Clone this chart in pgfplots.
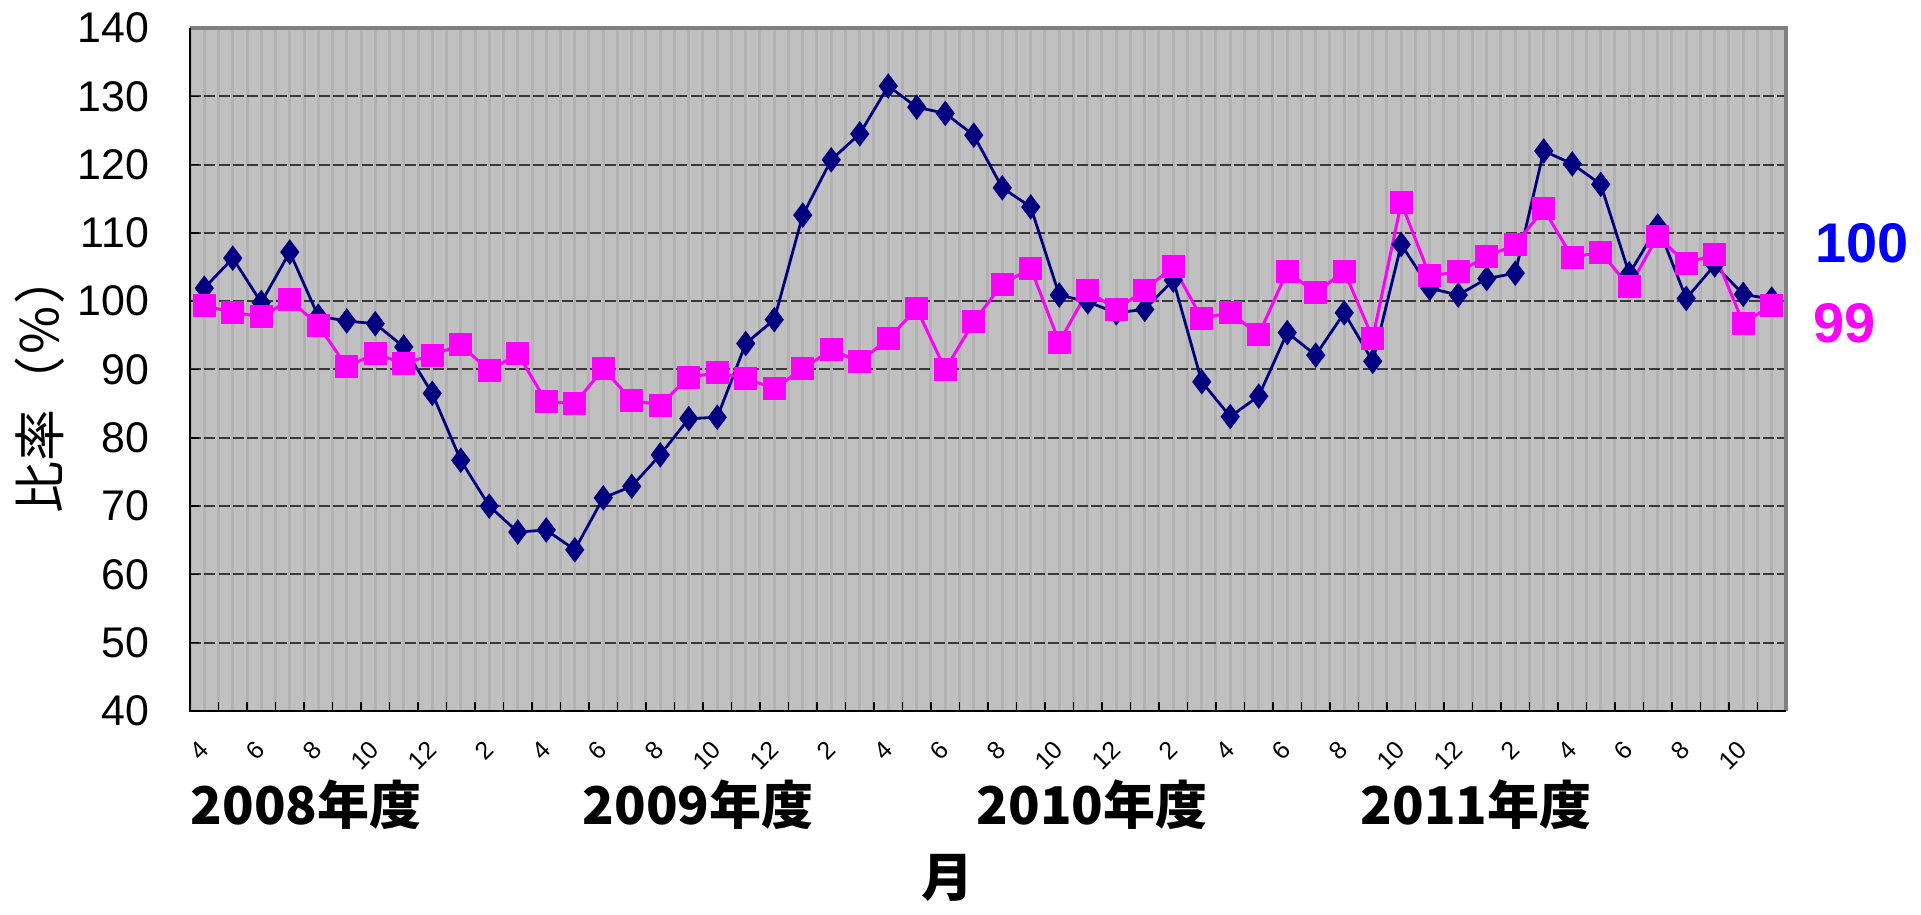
\documentclass[border=0pt]{standalone}
\usepackage{fontspec}
\setmainfont{Liberation Sans}
\newfontfamily\cjk{Noto Sans CJK JP}
\usepackage{graphicx}
\usepackage{pgfplots}
\usepackage{pgfplotstable}
\pgfplotsset{compat=1.18}
\definecolor{navyc}{HTML}{000080}
\definecolor{mag}{HTML}{FF00FF}
\definecolor{bgc}{HTML}{C0C0C0}
\definecolor{stripe}{HTML}{B2B2B2}
\definecolor{gridc}{HTML}{383838}
\definecolor{framec}{HTML}{808080}
\definecolor{lblue}{HTML}{0000FF}
\newcommand{\rl}[1]{\rotatebox{45}{#1}}

\pgfplotstableread{
i a b
0 101.9 99.3
1 106.3 98.4
2 99.8 97.7
3 107.2 100.2
4 97.8 96.5
5 97.1 90.4
6 96.7 92.3
7 93.3 90.9
8 86.5 92.1
9 76.7 93.6
10 70.0 89.8
11 66.2 92.3
12 66.5 85.3
13 63.6 85.0
14 71.2 90.1
15 72.9 85.5
16 77.5 84.8
17 82.8 88.9
18 83.0 89.5
19 93.8 88.7
20 97.3 87.2
21 112.6 90.1
22 120.7 92.9
23 124.5 91.1
24 131.5 94.5
25 128.4 98.9
26 127.5 90.0
27 124.3 97.0
28 116.6 102.5
29 113.8 104.8
30 100.9 94.0
31 99.9 101.5
32 98.3 98.8
33 98.8 101.6
34 103.1 105.1
35 88.2 97.5
36 83.1 98.3
37 86.1 95.1
38 95.4 104.4
39 92.1 101.2
40 98.3 104.4
41 91.2 94.6
42 108.3 114.4
43 101.9 103.7
44 100.9 104.3
45 103.3 106.5
46 104.1 108.3
47 122.0 113.5
48 120.1 106.4
49 117.1 107.2
50 104.0 102.1
51 111.0 109.5
52 100.4 105.5
53 105.3 106.9
54 101.0 96.8
55 100.3 99.4
}\datatable

\begin{document}
\begin{tikzpicture}
\useasboundingbox (0,0) rectangle (192.1mm,91.5mm);
\begin{axis}[
  at={(19mm,20.4mm)}, anchor=south west,
  scale only axis, width=159.6mm, height=68.3mm,
  xmin=-0.5, xmax=55.5, ymin=40, ymax=140,
  axis background/.style={fill=bgc},
  axis line style={draw=none},
  ytick={40,50,...,140},
  xtick={-0.5,0.5,...,55.5}, xticklabels={},
  minor xtick={0,1,...,55},
  xmajorgrids, xminorgrids, ymajorgrids,
  x grid style={stripe, line width=0.3mm},
  y grid style={gridc, line width=0.2mm, dash pattern=on 1.1mm off 0.33mm},
  minor tick length=0pt,
  major tick length=0.9mm, tick align=inside, xtick pos=bottom, ytick pos=left,
  tick style={black, line width=0.15mm},
  extra x ticks={0,2,...,54},
  extra x tick labels={\rl{4},\rl{6},\rl{8},\rl{10},\rl{12},\rl{2},\rl{4},\rl{6},\rl{8},\rl{10},\rl{12},\rl{2},\rl{4},\rl{6},\rl{8},\rl{10},\rl{12},\rl{2},\rl{4},\rl{6},\rl{8},\rl{10},\rl{12},\rl{2},\rl{4},\rl{6},\rl{8},\rl{10}},
  extra x tick style={grid=none, tick style={draw=none}},
  xticklabel shift=2.8mm,
  xticklabel style={font=\fontsize{7.1}{8}\selectfont, inner sep=0pt, anchor=north east, xshift=0.64mm},
  yticklabel style={font=\fontsize{12.2}{14}\selectfont, inner sep=0pt, anchor=east, xshift=-4mm},
  /pgf/number format/assume math mode=true,
  clip=false,
]
\addplot[navyc, line width=0.28mm, mark=diamond*, mark size=1.05mm, mark options={fill=navyc, draw=navyc, solid}] table[x=i, y=a] {\datatable};
\addplot[mag, line width=0.3mm, mark=square*, mark size=1.0mm, mark options={fill=mag, draw=mag, solid}] table[x=i, y=b] {\datatable};
\draw[framec, line width=0.4mm] (rel axis cs:0,1) -- (rel axis cs:1,1) -- (rel axis cs:1,0);
\draw[black, line width=0.2mm] (rel axis cs:0,1) -- (rel axis cs:0,0) -- (rel axis cs:1,0);
\end{axis}
\node[font=\cjk\fontsize{14.8}{16}\selectfont, rotate=90] at (4.0mm,53.2mm) {比率（％）};
\node[font=\cjk\bfseries\fontsize{14.8}{16}\selectfont, anchor=base west, inner sep=0pt] at (19.0mm,9.0mm) {2008年度};
\node[font=\cjk\bfseries\fontsize{14.8}{16}\selectfont, anchor=base west, inner sep=0pt] at (58.2mm,9.0mm) {2009年度};
\node[font=\cjk\bfseries\fontsize{14.8}{16}\selectfont, anchor=base west, inner sep=0pt] at (97.6mm,9.0mm) {2010年度};
\node[font=\cjk\bfseries\fontsize{14.8}{16}\selectfont, anchor=base west, inner sep=0pt] at (136.0mm,9.0mm) {2011年度};
\node[font=\cjk\bfseries\fontsize{14.8}{16}\selectfont] at (94.8mm,3.7mm) {月};
\node[font=\bfseries\fontsize{15.9}{18}\selectfont, text=lblue, anchor=base west, inner sep=0pt] at (181.5mm,65.2mm) {100};
\node[font=\bfseries\fontsize{15.9}{18}\selectfont, text=mag, anchor=base west, inner sep=0pt] at (181.3mm,57.2mm) {99};
\end{tikzpicture}
\end{document}
